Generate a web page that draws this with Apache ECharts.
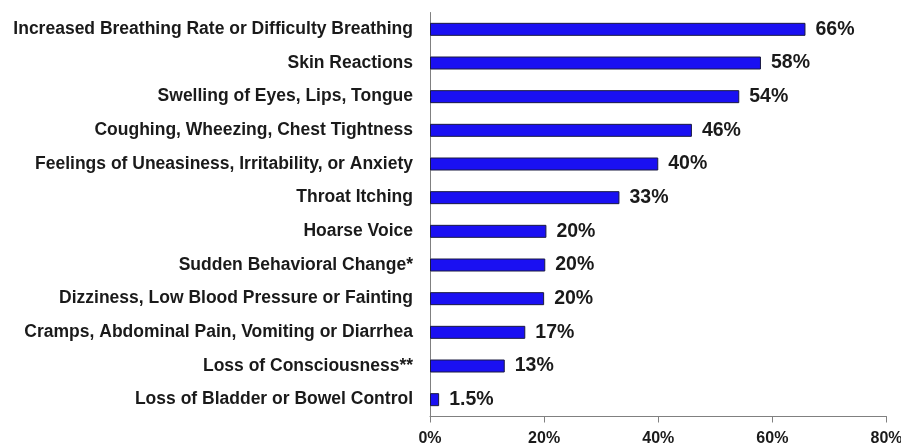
<!DOCTYPE html>
<html>
<head>
<meta charset="utf-8">
<script src="https://cdn.jsdelivr.net/npm/echarts@6/dist/echarts.min.js"></script>
<style>html,body{margin:0;padding:0;background:#fff}#c{width:901px;height:446px}</style>
</head>
<body>
<div id="c"></div>
<script>
const categories = [
  "Increased Breathing Rate or Difficulty Breathing",
  "Skin Reactions",
  "Swelling of Eyes, Lips, Tongue",
  "Coughing, Wheezing, Chest Tightness",
  "Feelings of Uneasiness, Irritability, or Anxiety",
  "Throat Itching",
  "Hoarse Voice",
  "Sudden Behavioral Change*",
  "Dizziness, Low Blood Pressure or Fainting",
  "Cramps, Abdominal Pain, Vomiting or Diarrhea",
  "Loss of Consciousness**",
  "Loss of Bladder or Bowel Control"
];
const values = [65.8, 58, 54.2, 45.9, 40, 33.2, 20.4, 20.2, 20, 16.7, 13.1, 1.6];
const valueLabels = ["66%", "58%", "54%", "46%", "40%", "33%", "20%", "20%", "20%", "17%", "13%", "1.5%"];
const xTicks = [0, 20, 40, 60, 80];

const chart = echarts.init(document.getElementById('c'), null, {renderer: 'canvas'});
chart.setOption({
  animation: false,
  backgroundColor: '#ffffff',
  grid: {left: 430, right: 14.5, top: 12.5, bottom: 29.5, containLabel: false, outerBoundsMode: 'none'},
  xAxis: {
    type: 'value', min: xTicks[0], max: xTicks[xTicks.length - 1], interval: 20,
    splitLine: {show: false},
    axisLine: {show: true, lineStyle: {color: '#808080', width: 1}},
    axisTick: {show: true, length: 6, lineStyle: {color: '#808080'}},
    axisLabel: {
      formatter: v => v + '%', margin: 14,
      fontFamily: 'Liberation Sans, Arial, sans-serif', fontWeight: 'bold', fontSize: 16, color: '#1a1a1a'
    }
  },
  yAxis: {
    type: 'category', data: categories, inverse: true,
    axisLine: {show: true, lineStyle: {color: '#808080', width: 1}},
    axisTick: {show: false},
    axisLabel: {
      margin: 17,
      fontFamily: 'Liberation Sans, Arial, sans-serif', fontWeight: 'bold', fontSize: 17.5, color: '#1a1a1a'
    }
  },
  series: [{
    type: 'bar', data: values, barWidth: 13,
    itemStyle: {color: '#1a10f2', borderColor: '#1a1a40', borderWidth: 1},
    label: {
      show: true, position: 'right', distance: 10,
      formatter: p => valueLabels[p.dataIndex],
      fontFamily: 'Liberation Sans, Arial, sans-serif', fontWeight: 'bold', fontSize: 19.5, color: '#1a1a1a'
    }
  }]
});
</script>
</body>
</html>
